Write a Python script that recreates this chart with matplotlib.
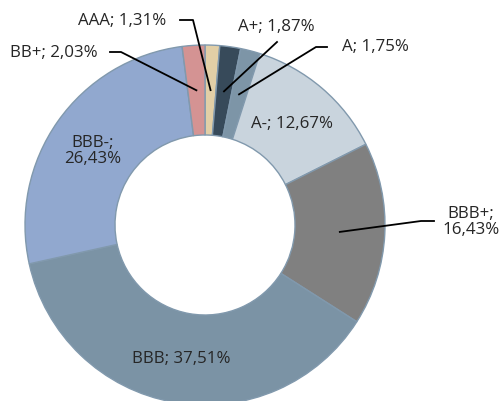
import numpy as np
import matplotlib
matplotlib.use("Agg")
import matplotlib.pyplot as plt

# rating shares, clockwise from 12 o'clock
ratings = ["AAA", "A+", "A", "A-", "BBB+", "BBB", "BBB-", "BB+"]
shares = [1.31, 1.87, 1.75, 12.67, 16.43, 37.51, 26.43, 2.03]
colors = ["#e2cfa6", "#374a5a", "#7d95a7", "#c9d4dd", "#808080",
          "#7b93a5", "#91a8cf", "#d49393"]

plt.rcParams["font.family"] = ["Open Sans", "DejaVu Sans"]

W, H = 503, 401
fig = plt.figure(figsize=(W / 100, H / 100), dpi=100)
ax = fig.add_axes([0, 0, 1, 1])

cx, cy, R = 205, 225, 180

# y axis is flipped below, so counterclock=True shows up clockwise
wedges, _ = ax.pie(shares, colors=colors, startangle=-90, counterclock=True,
                   center=(cx, cy), radius=R, frame=True,
                   wedgeprops=dict(width=R * 0.5, edgecolor="#8199ad", linewidth=1))
ax.set_xlim(0, W)
ax.set_ylim(H, 0)
ax.set_aspect("equal")
ax.axis("off")


def fmt(r, v):
    return f"{r}; {v:.2f}%".replace(".", ",")


def anchor(i, frac=0.75):
    w = wedges[i]
    a = np.deg2rad((w.theta1 + w.theta2) / 2)
    return cx + frac * R * np.cos(a), cy + frac * R * np.sin(a)


tkw = dict(fontsize=12.2, color="#262626")

# outside labels with leader lines: (text x, text y, elbow points)
outside = {
    0: (122, 21, [(180, 20), (193, 20)]),
    1: (276, 27, [(277, 42)]),
    2: (375, 47, [(327, 47), (316, 47)]),
    7: (54, 53, [(110, 52), (121, 52)]),
}
for i, (tx, ty, pts) in outside.items():
    ax.text(tx, ty, fmt(ratings[i], shares[i]), ha="center", va="center", **tkw)
    ex, ey = anchor(i)
    xs = [p[0] for p in pts] + [ex]
    ys = [p[1] for p in pts] + [ey]
    ax.plot(xs, ys, color="black", lw=1.3)

# BBB+ two-line label
ax.text(471, 222, "BBB+;\n" + f"{shares[4]:.2f}%".replace(".", ","),
        ha="center", va="center", linespacing=1.05, **tkw)
ex, ey = anchor(4)
ax.plot([434, 421, ex], [221, 221, ey], color="black", lw=1.3)

# inside labels
ax.text(292, 124, fmt(ratings[3], shares[3]), ha="center", va="center", **tkw)
ax.text(93, 151, "BBB-;\n" + f"{shares[6]:.2f}%".replace(".", ","),
        ha="center", va="center", linespacing=1.05, **tkw)
ax.text(181, 359, fmt(ratings[5], shares[5]), ha="center", va="center", **tkw)

fig.savefig("out.png", dpi=100)
